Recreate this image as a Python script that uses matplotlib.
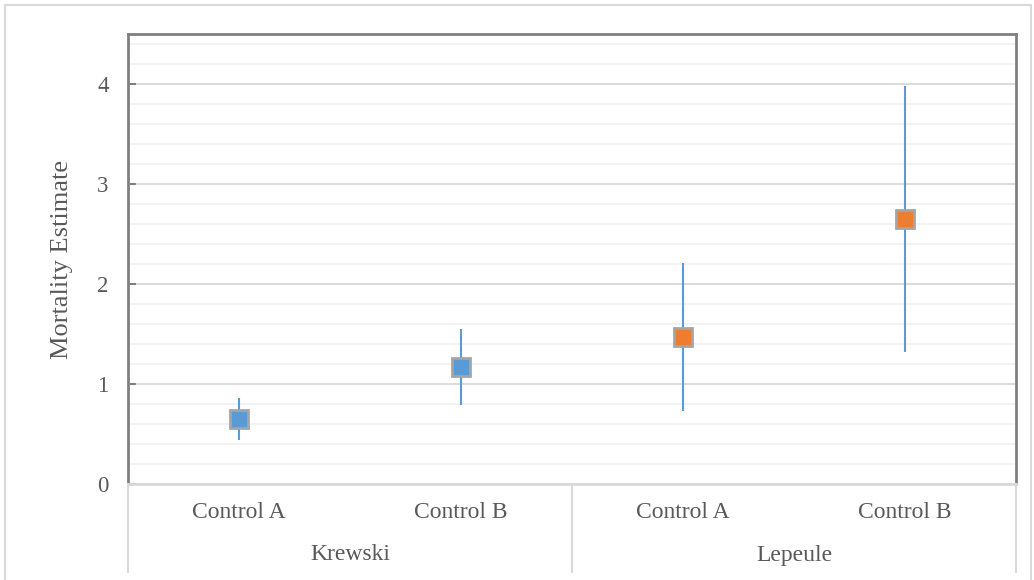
import numpy as np
import matplotlib
matplotlib.use("Agg")
import matplotlib.pyplot as plt
from matplotlib.patches import Rectangle
from matplotlib.lines import Line2D

groups = ["Krewski", "Lepeule"]
controls = ["Control A", "Control B", "Control A", "Control B"]
estimate = [0.65, 1.17, 1.47, 2.65]
lower = [0.44, 0.79, 0.73, 1.32]
upper = [0.86, 1.55, 2.21, 3.98]
point_colors = ["#5B9BD5", "#5B9BD5", "#ED7D31", "#ED7D31"]

W, H = 1034, 580
fig = plt.figure(figsize=(W / 100, H / 100), dpi=100)
plt.rcParams["font.family"] = ["Liberation Serif", "DejaVu Serif"]
txt = "#595959"

# faint outer frame
fig.patches.append(Rectangle((5 / W, -0.05), 1026 / W, 1 - 5 / H + 0.05,
                             transform=fig.transFigure, fill=False,
                             edgecolor="#d9d9d9", lw=1.5))

L, R, T, B = 128, 1016, 34, 484
ax = fig.add_axes([L / W, 1 - B / H, (R - L) / W, (B - T) / H])

x = np.arange(len(estimate))
est = np.array(estimate)
yerr = [est - np.array(lower), np.array(upper) - est]
ax.errorbar(x, est, yerr=yerr, fmt="none", ecolor="#5B9BD5", elinewidth=1.5,
            capsize=0, zorder=3)
for xi, yi, c in zip(x, est, point_colors):
    ax.plot(xi, yi, marker="s", ms=13, mfc=c, mec="#A5A5A5", mew=2, zorder=4)

ax.set_xlim(-0.5, len(estimate) - 0.5)
ax.set_ylim(0, 4.5)
ax.set_yticks([0, 1, 2, 3, 4])
ax.set_yticks(np.arange(0.2, 4.5, 0.2), minor=True)
ax.grid(axis="y", which="major", color="#d9d9d9", lw=1.3)
ax.grid(axis="y", which="minor", color="#f2f2f2", lw=1.3)
ax.set_axisbelow(True)
ax.tick_params(axis="y", which="major", direction="in", length=6, width=1.5,
               color="#808080", labelsize=16.5, labelcolor=txt, pad=14)
ax.tick_params(axis="y", which="minor", length=0)
ax.set_xticks([])
for s in ["left", "top", "right"]:
    ax.spines[s].set_color("#808080")
    ax.spines[s].set_linewidth(2)
ax.spines["bottom"].set_color("#d9d9d9")
ax.spines["bottom"].set_linewidth(2)

ax.set_ylabel("Mortality Estimate", fontsize=19, color=txt, labelpad=17)

# two-level category axis
cell = (R - L) / len(x)
for xi, lab in zip(x, controls):
    fig.text((L + (xi + 0.5) * cell) / W, 1 - 513 / H, lab,
             ha="center", va="center", fontsize=17, color=txt)
gcell = (R - L) / len(groups)
for gi, g in enumerate(groups):
    fig.text((L + (gi + 0.5) * gcell) / W, 1 - 555 / H, g, ha="center",
             va="center", fontsize=17, color=txt)
for gi in range(len(groups) + 1):
    xx = (L + gi * gcell) / W
    fig.add_artist(Line2D([xx, xx], [1 - B / H, 1 - 572 / H],
                          transform=fig.transFigure, color="#d9d9d9", lw=1.5))

fig.savefig("out.png", dpi=100)
